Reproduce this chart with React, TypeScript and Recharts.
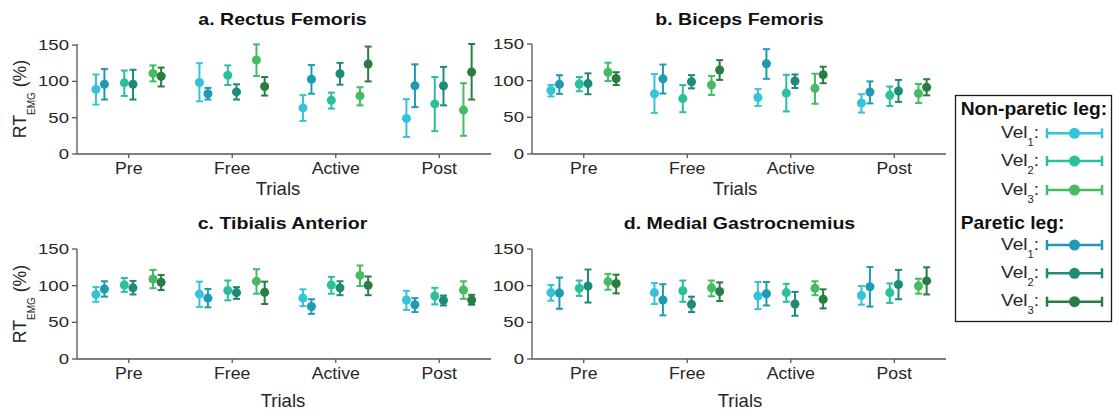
import React from 'react';
import { ScatterChart, Scatter, XAxis, YAxis, ErrorBar } from 'recharts';

const FONT = "'Liberation Sans', Arial, Helvetica, sans-serif";
const AXIS_COLOR = '#555555';
const TEXT_COLOR = '#262626';

const trials = ['Pre', 'Free', 'Active', 'Post'];
const yTicks = [0, 50, 100, 150];
const xTicks = trials.map((_, i) => i + 0.5);

// Series in drawing order inside each trial group (left to right)
const seriesLeg = ['Non-paretic', 'Paretic', 'Non-paretic', 'Paretic', 'Non-paretic', 'Paretic'];
const seriesVel = [1, 1, 2, 2, 3, 3];
const seriesColors = ['#35c3dc', '#1e9bb3', '#2cbf9c', '#1d8b77', '#45bc63', '#2a7d42'];
// horizontal dodge of each series from the trial centre, in trial units
const seriesDodge = [-0.317, -0.235, -0.043, 0.041, 0.234, 0.313];

// RT_EMG (%) — rows follow the series order above, columns follow trials
const rectusMean = [
  [89, 98.5, 63.5, 49],
  [96, 83, 103, 94],
  [98, 108.5, 74, 69],
  [96, 85.5, 110.5, 94],
  [111, 129.5, 80, 60.5],
  [107, 93, 124, 113],
];
const rectusLow = [
  [68, 72.5, 45.5, 23.5],
  [75, 75, 83, 64.5],
  [80, 95, 62.5, 31.5],
  [75, 75, 95.5, 67],
  [100, 107.5, 67, 25],
  [93, 80.5, 100, 75],
];
const rectusHigh = [
  [109.5, 125, 81, 75.5],
  [117, 91, 122.5, 123.5],
  [115, 122, 84.5, 106],
  [116, 96, 125.5, 120],
  [122, 151, 92, 97.5],
  [119, 106, 148, 151.5],
];

const bicepsMean = [
  [86.5, 82, 77, 69.5],
  [95, 102.5, 123, 84.5],
  [95.5, 75.5, 83, 80],
  [96, 98.5, 99.5, 86],
  [111.5, 94, 89.5, 82.5],
  [103, 114.5, 108, 91],
];
const bicepsLow = [
  [78.5, 56, 65.5, 56.5],
  [82, 82.5, 102.5, 69],
  [85.5, 57, 58, 65.5],
  [81.5, 89.5, 90, 71],
  [99.5, 80.5, 68.5, 69.5],
  [94, 101, 96.5, 80],
];
const bicepsHigh = [
  [94, 109, 88.5, 81.5],
  [107.5, 122, 143, 99],
  [105, 94, 108, 92],
  [110, 107.5, 108.5, 101],
  [124.5, 106.5, 109.5, 95.5],
  [111.5, 128, 119, 102],
];

const tibialisMean = [
  [88, 88.5, 83, 80.5],
  [95.5, 83, 71.5, 74],
  [101, 93.5, 101, 86],
  [97, 90.5, 97, 80],
  [109, 106, 114, 94],
  [104.5, 91, 100.5, 80.5],
];
const tibialisLow = [
  [78, 71, 72, 67],
  [85, 70.5, 61.5, 64],
  [91.5, 80, 89, 74.5],
  [88, 82, 87, 73],
  [96.5, 89, 99.5, 82],
  [94, 75, 87, 74],
];
const tibialisHigh = [
  [98, 105.5, 95, 93],
  [106, 95.5, 81.5, 83],
  [110.5, 107, 112, 97],
  [106.5, 98, 106, 86.5],
  [121.5, 122.5, 127.5, 106],
  [114.5, 105.5, 112.5, 87.5],
];

const gastrocMean = [
  [90.5, 90.5, 86, 86.5],
  [90, 80.5, 89, 98.5],
  [96.5, 93, 90.5, 90.5],
  [99.5, 74.5, 75, 101.5],
  [105.5, 97, 96.5, 99.5],
  [103, 92, 81.5, 106.5],
];
const gastrocLow = [
  [79.5, 75, 68, 74],
  [68.5, 59.5, 73, 71.5],
  [86, 78, 78, 76.5],
  [77, 64, 59, 81.5],
  [94.5, 85.5, 87, 89],
  [89.5, 79, 69, 88],
];
const gastrocHigh = [
  [101, 103.5, 105, 99.5],
  [111, 102, 105, 125.5],
  [107, 107, 102.5, 103],
  [122, 85, 91.5, 121.5],
  [116, 107, 106, 109.5],
  [115, 104.5, 95, 125],
];

// Panel layout: plot origin (left, top) on the page and label anchors
const panels = [
  { title: 'a. Rectus Femoris', mean: rectusMean, low: rectusLow, high: rectusHigh,
    plotX: 77, plotY: 44, titleX: 282.5, titleY: 25, trialsX: 278, trialsY: 195, yLabel: true },
  { title: 'b. Biceps Femoris', mean: bicepsMean, low: bicepsLow, high: bicepsHigh,
    plotX: 532, plotY: 44, titleX: 739.5, titleY: 25, trialsX: 735, trialsY: 195, yLabel: false },
  { title: 'c. Tibialis Anterior', mean: tibialisMean, low: tibialisLow, high: tibialisHigh,
    plotX: 77, plotY: 249, titleX: 282.5, titleY: 229, trialsX: 283, trialsY: 406.5, yLabel: true },
  { title: 'd. Medial Gastrocnemius', mean: gastrocMean, low: gastrocLow, high: gastrocHigh,
    plotX: 532, plotY: 249, titleX: 739.5, titleY: 229, trialsX: 740, trialsY: 406.5, yLabel: false },
];

const PLOT_W = 414;
const PLOT_H = 110;
const MARGIN = { top: 44, right: 10, bottom: 16, left: 37 };
const Y_AXIS_W = 40;
const X_AXIS_H = 30;
const CHART_W = MARGIN.left + Y_AXIS_W + PLOT_W + MARGIN.right;
const CHART_H = MARGIN.top + PLOT_H + X_AXIS_H + MARGIN.bottom;

function buildRows(mean: number[][], low: number[][], high: number[][], s: number) {
  return trials.map((trial, i) => ({
    trial,
    x: i + 0.5 + seriesDodge[s],
    y: mean[s][i],
    err: [mean[s][i] - low[s][i], high[s][i] - mean[s][i]],
  }));
}

// Text drawn with a slight horizontal stretch
function WideText(props: {
  x: number; y: number; sx?: number; size: number; anchor?: 'start' | 'middle' | 'end';
  weight?: string | number; fill?: string; children: React.ReactNode;
}) {
  const { x, y, sx = 1, size, anchor = 'middle', weight = 'normal', fill = TEXT_COLOR, children } = props;
  return (
    <g transform={`translate(${x},${y}) scale(${sx},1)`}>
      <text x={0} y={0} textAnchor={anchor} fontSize={size} fontWeight={weight} fill={fill} fontFamily={FONT}>
        {children}
      </text>
    </g>
  );
}

function XTick(props: any) {
  const { x, y, payload } = props;
  const idx = Math.round(payload.value - 0.5);
  return (
    <WideText x={x} y={y + 14} sx={1.12} size={15.8}>
      {trials[idx]}
    </WideText>
  );
}

function YTick(props: any) {
  const { x, y, payload } = props;
  return (
    <WideText x={x} y={y + 5} sx={1.28} size={14.5} anchor="end">
      {payload.value}
    </WideText>
  );
}

function Panel({ p }: { p: (typeof panels)[number] }) {
  const left = p.plotX - MARGIN.left - Y_AXIS_W;
  const top = p.plotY - MARGIN.top;
  return (
    <div style={{ position: 'absolute', left, top, width: CHART_W, height: CHART_H }}>
      <ScatterChart width={CHART_W} height={CHART_H} margin={MARGIN}>
        <XAxis
          type="number"
          dataKey="x"
          domain={[0, 4]}
          ticks={xTicks}
          interval={0}
          height={X_AXIS_H}
          tickSize={4}
          tickMargin={2}
          axisLine={{ stroke: AXIS_COLOR, strokeWidth: 1.3 }}
          tickLine={{ stroke: AXIS_COLOR, strokeWidth: 1.3 }}
          tick={XTick}
        />
        <YAxis
          type="number"
          dataKey="y"
          domain={[0, 150]}
          ticks={yTicks}
          interval={0}
          width={Y_AXIS_W}
          tickSize={5}
          tickMargin={3}
          axisLine={{ stroke: AXIS_COLOR, strokeWidth: 1.3 }}
          tickLine={{ stroke: AXIS_COLOR, strokeWidth: 1.3 }}
          tick={YTick}
        />
        {seriesColors.map((color, s) => (
          <Scatter
            key={s}
            name={`${seriesLeg[s]} Vel${seriesVel[s]}`}
            data={buildRows(p.mean, p.low, p.high, s)}
            fill={color}
            isAnimationActive={false}
          >
            <ErrorBar dataKey="err" direction="y" width={3.5} strokeWidth={2} stroke={color} />
          </Scatter>
        ))}
      </ScatterChart>
    </div>
  );
}

function YLabel({ cy }: { cy: number }) {
  return (
    <text
      transform={`translate(26,${cy}) rotate(-90)`}
      textAnchor="middle"
      fontSize={17.7}
      fill={TEXT_COLOR}
      fontFamily={FONT}
    >
      RT
      <tspan fontSize={10} dy={8.5}>EMG</tspan>
      <tspan dy={-8.5}> (%)</tspan>
    </text>
  );
}

// Legend rows: leg group headers followed by the three velocities
const legendGroups = ['Non-paretic', 'Paretic'];
const legendHeaderY = [115, 228.5];
const legendRowY = [
  [133.3, 161, 190],
  [245, 273.3, 301.7],
];

function LegendBox() {
  return (
    <g>
      <rect x={955.5} y={95.5} width={156} height={226} fill="#ffffff" stroke="#1a1a1a" strokeWidth={1.3} />
      {legendGroups.map((leg, g) => (
        <g key={leg}>
          <WideText x={960.7} y={legendHeaderY[g]} sx={1.1} size={17.5} anchor="start" weight="bold" fill="#111">
            {`${leg} leg:`}
          </WideText>
          {[1, 2, 3].map((vel, r) => {
            const s = seriesLeg.findIndex((l, i) => l === leg && seriesVel[i] === vel);
            const color = seriesColors[s];
            const ry = legendRowY[g][r];
            return (
              <g key={vel}>
                <WideText x={1001} y={ry + 4.5} sx={1.12} size={17} anchor="start">
                  Vel
                  <tspan fontSize={10} dy={8}>{vel}</tspan>
                  <tspan dy={-8}>:</tspan>
                </WideText>
                <line x1={1047} y1={ry} x2={1102} y2={ry} stroke={color} strokeWidth={2.5} />
                <line x1={1047} y1={ry - 5} x2={1047} y2={ry + 5} stroke={color} strokeWidth={2.5} />
                <line x1={1102} y1={ry - 5} x2={1102} y2={ry + 5} stroke={color} strokeWidth={2.5} />
                <circle cx={1074.5} cy={ry} r={5.5} fill={color} />
              </g>
            );
          })}
        </g>
      ))}
    </g>
  );
}

export default function App() {
  return (
    <div
      style={{
        position: 'absolute',
        left: 0,
        top: 0,
        width: 1113,
        height: 413,
        background: '#ffffff',
        fontFamily: FONT,
        overflow: 'hidden',
      }}
    >
      {panels.map((p) => (
        <Panel key={p.title} p={p} />
      ))}
      <svg
        width={1113}
        height={413}
        style={{ position: 'absolute', left: 0, top: 0, pointerEvents: 'none' }}
      >
        {panels.map((p) => (
          <g key={p.title}>
            <WideText x={p.titleX} y={p.titleY} sx={1.2} size={16.3} weight="bold" fill="#111">
              {p.title}
            </WideText>
            <WideText x={p.trialsX} y={p.trialsY} sx={1.0} size={18.5}>
              Trials
            </WideText>
            {p.yLabel && <YLabel cy={p.plotY + PLOT_H / 2} />}
          </g>
        ))}
        <LegendBox />
      </svg>
    </div>
  );
}
